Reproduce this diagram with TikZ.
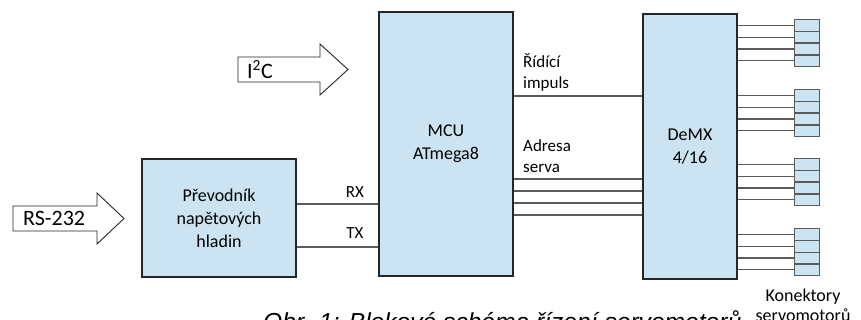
\documentclass[tikz,border=0pt]{standalone}
\usepackage{fontspec}
\setmainfont{Carlito}
\newfontfamily\captionfont{Liberation Sans}
\usetikzlibrary{positioning,calc}
\definecolor{ink}{HTML}{262626}
\definecolor{wire}{HTML}{5A5A5A}
\definecolor{bluefill}{HTML}{CCE3F1}
\tikzset{
  block/.style={draw=ink, fill=bluefill, line width=2.4pt, align=center, inner sep=0pt, font=\fontsize{18}{23}\selectfont},
  cell/.style={draw=wire, fill=bluefill, line width=1.3pt, minimum width=25pt, minimum height=11.75pt, inner sep=0pt},
  wireline/.style={draw=wire, line width=1.2pt},
  bus/.style={draw=ink, fill=white, line width=0.9pt, line join=miter},
  sigtag/.style={font=\fontsize{17}{21}\selectfont, align=left, inner sep=0pt},
  buslabel/.style={font=\fontsize{22}{26}\selectfont, inner sep=0pt, anchor=west}
}

\begin{document}
\begin{tikzpicture}[x=1pt, y=-1pt]
  \useasboundingbox (0,0) rectangle (861,320);

  \node[block, minimum width=154pt, minimum height=118pt] (conv) at (219,218) {Převodník\\napětových\\hladin};
  \node[block, minimum width=134pt, minimum height=264pt] (mcu) at (446,144) {MCU\\ATmega8};
  \node[block, minimum width=94pt, minimum height=265pt] (demx) at (690,146.5) {DeMX\\4/16};

  % input buses
  \draw[bus] (13,206) -- (97,206) -- (97,193) -- (124,218.5) -- (97,244) -- (97,231) -- (13,231) -- cycle;
  \node[buslabel] (rs) at (23,218.5) {RS-232};
  \draw[bus] (238,57) -- (320,57) -- (320,44) -- (348,69.5) -- (320,95) -- (320,82) -- (238,82) -- cycle;
  \node[buslabel] (iic) at (247,69.5) {I\textsuperscript{2}C};

  % uart
  \coordinate (rx) at (340,204);
  \coordinate (tx) at (340,247);
  \draw[wireline] (conv.east |- rx) -- (mcu.west |- rx);
  \draw[wireline] (conv.east |- tx) -- (mcu.west |- tx);
  \node[sigtag] (rxlabel) at (355,192) {RX};
  \node[sigtag] (txlabel) at (355,233) {TX};

  % mcu -> demx
  \coordinate (pulse) at (580,96);
  \draw[wireline] (mcu.east |- pulse) -- (demx.west |- pulse);
  \node[sigtag, anchor=west] (pulselabel) at (523,72.5) {Řídící\\impuls};
  \foreach \y in {179,191,203,215}
    \draw[wireline] (mcu.east |- 0,\y) -- (demx.west |- 0,\y);
  \node[sigtag, anchor=west] (addrlabel) at (523,156.5) {Adresa\\serva};

  % servo connectors
  \foreach \g/\top in {1/19, 2/89, 3/158, 4/228} {
    \foreach \k in {1,...,4} {
      \node[cell, anchor=north west] (c\g\k) at (794,{\top+(\k-1)*11.75}) {};
      \draw[wireline] (demx.east |- c\g\k) -- (c\g\k.west);
    }
  }
  \node[sigtag, align=center, font=\fontsize{18}{20}\selectfont] (conn) at (803,305) {Konektory\\servomotorů};

  \node[anchor=base west, inner sep=0pt, font=\captionfont\itshape\fontsize{24.6}{28}\selectfont] (caption) at (263,330) {Obr. 1: Blokové schéma řízení servomotorů};
\end{tikzpicture}
\end{document}
